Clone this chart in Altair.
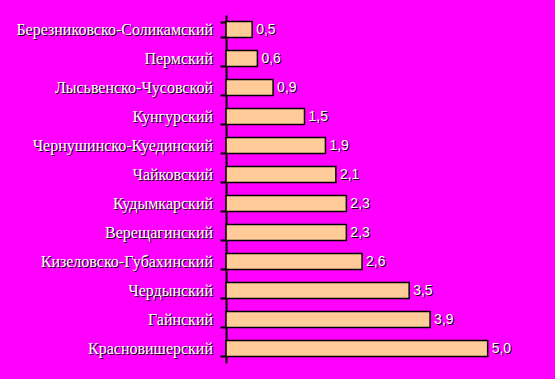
import altair as alt
import pandas as pd

districts = [
    "Березниковско-Соликамский", "Пермский", "Лысьвенско-Чусовской", "Кунгурский",
    "Чернушинско-Куединский", "Чайковский", "Кудымкарский", "Верещагинский",
    "Кизеловско-Губахинский", "Чердынский", "Гайнский", "Красновишерский",
]
values = [0.5, 0.6, 0.9, 1.5, 1.9, 2.1, 2.3, 2.3, 2.6, 3.5, 3.9, 5.0]

df = pd.DataFrame({
    "district": districts,
    "value": values,
    "label": [f"{v:.1f}".replace(".", ",") for v in values],
})

y = alt.Y("district:N", sort=districts, title=None,
          scale=alt.Scale(paddingInner=0.45, paddingOuter=0.225),
          axis=alt.Axis(labels=False, tickBand="extent", tickSize=6, tickColor="black",
                        tickWidth=2, domainColor="black", domainWidth=2, title=None))
x = alt.X("value:Q", scale=alt.Scale(domain=[0, 6], nice=False), axis=None)

base = alt.Chart(df)

bars = base.mark_bar(fill="#FFCC99", stroke="black", strokeWidth=1.5).encode(x=x, y=y)

val_shadow = base.mark_text(align="left", baseline="middle", dx=5, dy=1, font="Liberation Sans",
                            fontSize=14, color="black").encode(x=x, y=y, text="label:N")
val_text = base.mark_text(align="left", baseline="middle", dx=4, font="Liberation Sans",
                          fontSize=14, color="white").encode(x=x, y=y, text="label:N")

cat_shadow = base.mark_text(align="right", baseline="middle", dx=1, dy=1, font="Liberation Serif",
                            fontSize=16, color="black").encode(x=alt.value(-13), y=y, text="district:N")
cat_text = base.mark_text(align="right", baseline="middle", font="Liberation Serif",
                          fontSize=16, color="white").encode(x=alt.value(-13), y=y, text="district:N")

chart = alt.layer(bars, val_shadow, val_text, cat_shadow, cat_text).properties(
    width=314, height=348,
    background="#FF00FF",
    autosize=alt.AutoSizeParams(type="none"),
    padding={"left": 226, "top": 15, "right": 15, "bottom": 16},
).configure_view(stroke=None)

chart.save("out.html", embed_options={"renderer": "svg", "actions": False})
